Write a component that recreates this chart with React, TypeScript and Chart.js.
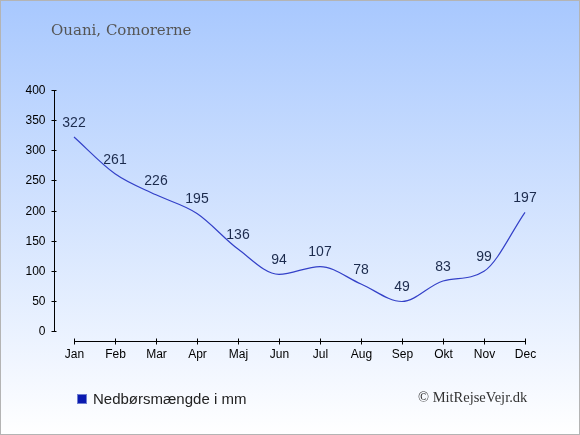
import React, { useEffect, useRef } from 'react';
import { Chart, registerables } from 'chart.js';

Chart.register(...registerables);

const months = ['Jan', 'Feb', 'Mar', 'Apr', 'Maj', 'Jun', 'Jul', 'Aug', 'Sep', 'Okt', 'Nov', 'Dec'];
const rainfall = [322, 261, 226, 195, 136, 94, 107, 78, 49, 83, 99, 197];
const yTicks = [0, 50, 100, 150, 200, 250, 300, 350, 400];

// draws the detached axes, tick labels and point values
const axesPlugin = {
  id: 'detachedAxes',
  afterDatasetsDraw(chart: any) {
    const { ctx, scales, chartArea } = chart;
    const x = scales.x;
    const y = scales.y;
    ctx.save();
    ctx.strokeStyle = '#000';
    ctx.lineWidth = 1;
    ctx.fillStyle = '#000';
    ctx.font = '12px "Liberation Sans", Arial, sans-serif';

    // y axis
    const ax = chartArea.left - 19.5;
    ctx.beginPath();
    ctx.moveTo(ax, y.getPixelForValue(400));
    ctx.lineTo(ax, y.getPixelForValue(0));
    ctx.stroke();
    ctx.textAlign = 'right';
    ctx.textBaseline = 'middle';
    yTicks.forEach((t) => {
      const py = Math.round(y.getPixelForValue(t)) + 0.5;
      ctx.beginPath();
      ctx.moveTo(ax - 3, py);
      ctx.lineTo(ax + 2, py);
      ctx.stroke();
      ctx.fillText(String(t), ax - 9, py);
    });

    // x axis
    const ay = chartArea.bottom + 10.5;
    ctx.beginPath();
    ctx.moveTo(x.getPixelForValue(0), ay);
    ctx.lineTo(x.getPixelForValue(months.length - 1), ay);
    ctx.stroke();
    ctx.textAlign = 'center';
    ctx.textBaseline = 'middle';
    months.forEach((m, i) => {
      const px = Math.round(x.getPixelForValue(i)) + 0.5;
      ctx.beginPath();
      ctx.moveTo(px, ay - 3);
      ctx.lineTo(px, ay + 3);
      ctx.stroke();
      ctx.fillText(m, px, ay + 13);
    });

    // values
    ctx.fillStyle = '#1c2b4d';
    ctx.font = '14px "Liberation Sans", Arial, sans-serif';
    ctx.textBaseline = 'middle';
    const meta = chart.getDatasetMeta(0);
    meta.data.forEach((pt: any, i: number) => {
      ctx.fillText(String(rainfall[i]), pt.x, pt.y - 14);
    });
    ctx.restore();
  },
};

const App: React.FC = () => {
  const chartRef = useRef<HTMLCanvasElement>(null);
  const chartInstance = useRef<Chart>();

  useEffect(() => {
    document.body.style.margin = '0';
    if (chartRef.current) {
      const ctx = chartRef.current.getContext('2d');
      if (ctx) {
        if (chartInstance.current) {
          chartInstance.current.destroy();
        }
        chartInstance.current = new Chart(ctx, {
          type: 'line',
          data: {
            labels: months,
            datasets: [
              {
                label: 'Nedbørsmængde i mm',
                data: rainfall,
                borderColor: '#3340c8',
                borderWidth: 1.2,
                pointRadius: 0,
                fill: false,
                cubicInterpolationMode: 'monotone',
                clip: false as any,
              },
            ],
          },
          options: {
            animation: false,
            responsive: false,
            devicePixelRatio: 1,
            layout: { padding: { left: 74, right: 55, top: 90, bottom: 104 } },
            plugins: {
              legend: { display: false },
              tooltip: { enabled: false },
            },
            scales: {
              x: { display: false, offset: false },
              y: { display: false, min: 0, max: 400 },
            },
          },
          plugins: [axesPlugin],
        });
      }
    }
    return () => {
      if (chartInstance.current) {
        chartInstance.current.destroy();
        chartInstance.current = undefined;
      }
    };
  }, []);

  return (
    <div
      style={{
        position: 'relative',
        width: 580,
        height: 435,
        background: 'linear-gradient(#a8c8fe, #ffffff)',
        fontFamily: '"Liberation Sans", Arial, sans-serif',
      }}
    >
      <canvas ref={chartRef} width={580} height={435} style={{ position: 'absolute', left: 0, top: 0 }} />
      <div
        style={{
          position: 'absolute',
          left: 51,
          top: 21,
          fontFamily: '"DejaVu Serif", serif',
          fontSize: 15,
          color: '#555',
          whiteSpace: 'nowrap',
        }}
      >
        Ouani, Comorerne
      </div>
      <div style={{ position: 'absolute', left: 77, top: 390, display: 'flex', alignItems: 'center' }}>
        <span
          style={{
            display: 'inline-block',
            width: 10,
            height: 10,
            background: '#0a1ab0',
            border: '1px solid #6f7fd0',
            boxSizing: 'border-box',
            marginRight: 6,
          }}
        />
        <span style={{ fontSize: 15, color: '#222', whiteSpace: 'nowrap' }}>Nedbørsmængde i mm</span>
      </div>
      <div
        style={{
          position: 'absolute',
          left: 418,
          top: 389,
          fontFamily: '"Liberation Serif", serif',
          fontSize: 14.5,
          color: '#333',
          whiteSpace: 'nowrap',
        }}
      >
        © MitRejseVejr.dk
      </div>
      <div
        style={{
          position: 'absolute',
          inset: 0,
          border: '1px solid #b4b4b4',
          boxSizing: 'border-box',
          pointerEvents: 'none',
        }}
      />
    </div>
  );
};

export default App;
